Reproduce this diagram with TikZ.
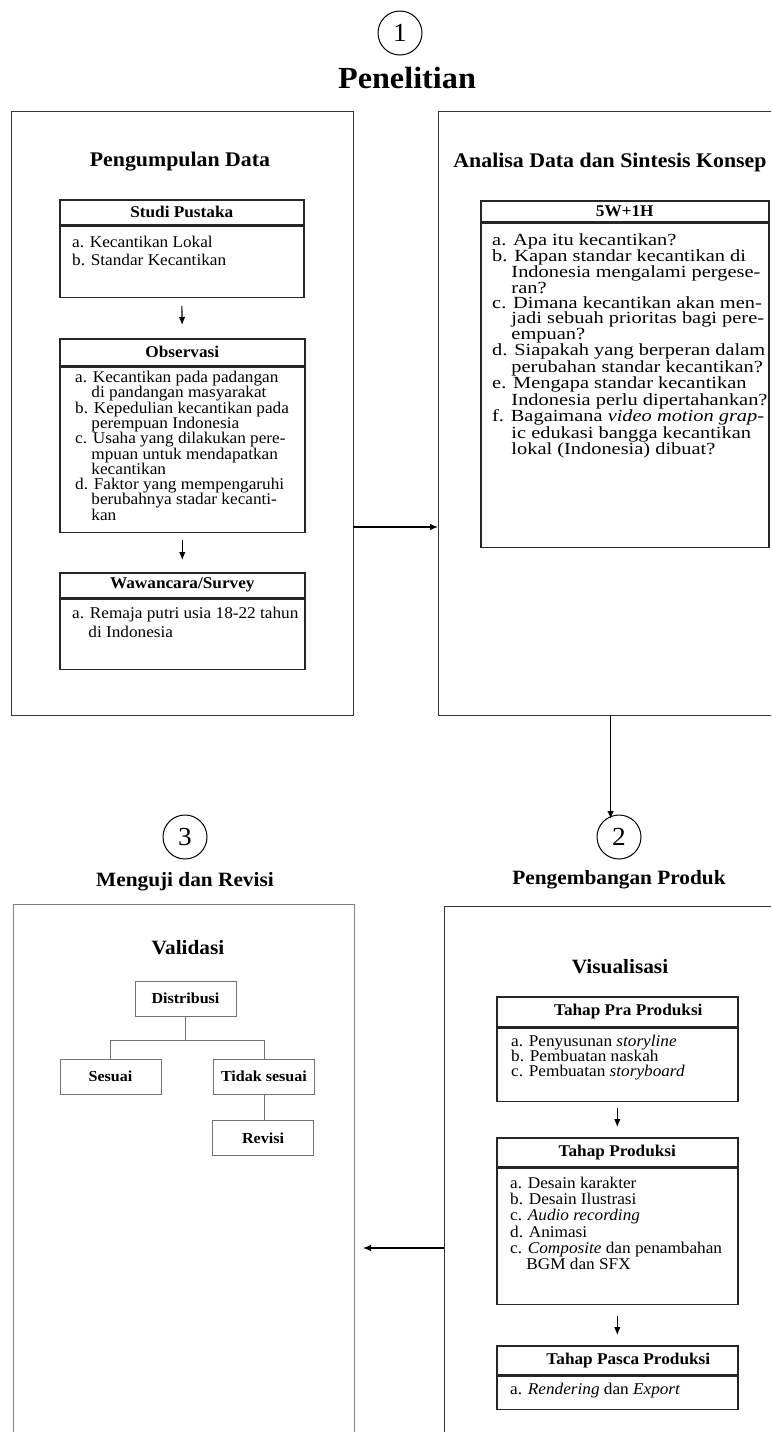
\documentclass[tikz,border=0pt]{standalone}
\usepackage{fontspec}
\setmainfont[FakeStretch=1.05]{Liberation Serif}
\newfontfamily\lebar[FakeStretch=1.2]{Liberation Serif}
\usetikzlibrary{arrows.meta}

\newcommand{\lanjut}{\phantom{a.}\ }

\begin{document}
\begin{tikzpicture}[x=1pt,y=-1pt,
    bigbox/.style={draw=black!80,line width=1.2pt,inner sep=0pt,anchor=north west},
    grpbox/.style={draw=black!50,line width=1pt,inner sep=0pt,anchor=north west},
    hdr/.style={draw=black!85,line width=1.6pt,inner sep=0pt,anchor=north west,font=\fontsize{16.4}{18}\selectfont\bfseries},
    bdy/.style={draw=black!85,line width=1.6pt,inner sep=0pt,anchor=north west},
    txt/.style={inner sep=0pt,anchor=north west,align=left},
    judul/.style={font=\fontsize{20.8}{23}\selectfont\bfseries},
    subjudul/.style={font=\fontsize{20.3}{23}\selectfont\bfseries},
    nomor/.style={circle,draw,line width=1pt,minimum size=44pt,inner sep=0pt,font=\fontsize{26}{26}\selectfont},
    cabang/.style={draw=black!55,line width=1pt,minimum width=101pt,minimum height=35pt,inner sep=0pt,font=\fontsize{15.3}{17}\selectfont\bfseries},
    arr/.style={-{Latex[length=8pt,width=6.5pt]},line width=1.1pt},
    garis/.style={draw=black!55,line width=1pt}]

  \useasboundingbox (0,0) rectangle (771,1432);
  \clip (0,0) rectangle (771,1432);

  % tahap 1 : penelitian
  \node[nomor] (satu) at (400,33) {1};
  \node[font=\fontsize{30.7}{33}\selectfont\bfseries] (teliti) at (407,78) {Penelitian};
  \node[bigbox,minimum width=342pt,minimum height=604pt] (kumpul) at (11,111) {};
  \node[bigbox,minimum width=344pt,minimum height=604pt] (analisa) at (438,111) {};
  \node[judul] (kumpulT) at (180,162) {Pengumpulan Data};
  \node[judul] (analisaT) at (610,162) {Analisa Data dan Sintesis Konsep};

  \node[hdr,minimum width=244pt,minimum height=25pt] (studiH) at (59,199) {Studi Pustaka};
  \node[bdy,minimum width=244pt,minimum height=71pt] (studiB) at (studiH.south west) {};
  \node[txt,font=\fontsize{16.4}{18}\selectfont] (studiT) at (72,236) {a. Kecantikan Lokal\\b. Standar Kecantikan};

  \node[hdr,minimum width=245pt,minimum height=27pt] (obsH) at (59,338) {Observasi};
  \node[bdy,minimum width=245pt,minimum height=165pt] (obsB) at (obsH.south west) {};
  \node[txt,font=\fontsize{16.4}{15.3}\selectfont] (obsT) at (75,371) {a. Kecantikan pada padangan\\
    \lanjut di pandangan masyarakat\\
    b. Kepedulian kecantikan pada\\
    \lanjut perempuan Indonesia\\
    c. Usaha yang dilakukan pere-\\
    \lanjut mpuan untuk mendapatkan\\
    \lanjut kecantikan\\
    d. Faktor yang mempengaruhi\\
    \lanjut berubahnya stadar kecanti-\\
    \lanjut kan};

  \node[hdr,minimum width=245pt,minimum height=25pt] (wawanH) at (59,572) {Wawancara/Survey};
  \node[bdy,minimum width=245pt,minimum height=70pt] (wawanB) at (wawanH.south west) {};
  \node[txt,font=\fontsize{16.4}{19}\selectfont] (wawanT) at (72,607) {a. Remaja putri usia 18-22 tahun\\
    \lanjut di Indonesia};

  \draw[arr,shorten <=8pt,shorten >=13pt] (studiB.south) -- (obsH.north);
  \draw[arr,shorten <=7pt,shorten >=12pt] (obsB.south) -- (wawanH.north);

  \node[hdr,minimum width=288pt,minimum height=21pt] (limaH) at (480,200) {5W+1H};
  \node[bdy,minimum width=288pt,minimum height=324pt] (limaB) at (limaH.south west) {};
  \node[txt,font=\lebar\fontsize{17}{14.8}\selectfont] (limaT) at (492,233) {a. Apa itu kecantikan?\\
    b. Kapan standar kecantikan di\\
    \lanjut Indonesia mengalami pergese-\\
    \lanjut ran?\\
    c. Dimana kecantikan akan men-\\
    \lanjut jadi sebuah prioritas bagi pere-\\
    \lanjut empuan?\\
    d. Siapakah yang berperan dalam\\
    \lanjut perubahan standar kecantikan?\\
    e. Mengapa standar kecantikan\\
    \lanjut Indonesia perlu dipertahankan?\\
    f. Bagaimana \textit{video motion grap-}\\
    \lanjut ic edukasi bangga kecantikan\\
    \lanjut lokal (Indonesia) dibuat?};

  \coordinate (kanan) at (353,527);
  \draw[arr] (kanan) -- (analisa.west |- kanan);
  \draw[arr,shorten >=18pt] (analisa.south) -- (analisa.south |- 610,837);

  % tahap 2 dan 3
  \node[nomor] (tiga) at (185,837) {3};
  \node[subjudul] (ujiT) at (185,882) {Menguji dan Revisi};
  \node[nomor] (dua) at (619,837) {2};
  \node[subjudul] (kembangT) at (619,880) {Pengembangan Produk};

  \node[grpbox,minimum width=341pt,minimum height=600pt] (uji) at (13,904) {};
  \node[bigbox,minimum width=350pt,minimum height=600pt] (visual) at (444,906) {};
  \node[subjudul] (validasiT) at (188,948) {Validasi};
  \node[subjudul] (visualT) at (620,967) {Visualisasi};

  \node[cabang] (distri) at (185.5,998.5) {Distribusi};
  \node[cabang] (sesuai) at (110.5,1076.5) {Sesuai};
  \node[cabang] (tidak) at (264,1076.5) {Tidak sesuai};
  \node[cabang] (revisi) at (263,1138) {Revisi};
  \draw[garis] (distri.south) -- ++(0,24) -| (sesuai.north);
  \draw[garis] (distri.south) -- ++(0,24) -| (tidak.north);
  \draw[garis] (tidak.south) -- (tidak.south |- revisi.north);

  \node[hdr,minimum width=241pt,minimum height=30pt] (praH) at (496,996) {\hspace*{22pt}Tahap Pra Produksi};
  \node[bdy,minimum width=241pt,minimum height=73pt] (praB) at (praH.south west) {};
  \node[txt,font=\fontsize{16.4}{15}\selectfont] (praT) at (511,1035) {a. Penyusunan \textit{storyline}\\
    b. Pembuatan naskah\\
    c. Pembuatan \textit{storyboard}};

  \node[hdr,minimum width=241pt,minimum height=29pt] (prodH) at (496,1137) {Tahap Produksi};
  \node[bdy,minimum width=241pt,minimum height=136pt] (prodB) at (prodH.south west) {};
  \node[txt,font=\fontsize{16.4}{16.2}\selectfont] (prodT) at (510,1177) {a. Desain karakter\\
    b. Desain Ilustrasi\\
    c. \textit{Audio recording}\\
    d. Animasi\\
    c. \textit{Composite} dan penambahan\\
    \lanjut BGM dan SFX};

  \node[hdr,minimum width=241pt,minimum height=29pt] (pascaH) at (496,1345) {\hspace*{22pt}Tahap Pasca Produksi};
  \node[bdy,minimum width=241pt,minimum height=33pt] (pascaB) at (pascaH.south west) {};
  \node[txt,font=\fontsize{16.4}{16}\selectfont] (pascaT) at (510,1383) {a. \textit{Rendering} dan \textit{Export}};

  \draw[arr,shorten <=6pt,shorten >=10pt] (praB.south) -- (prodH.north);
  \draw[arr,shorten <=11pt,shorten >=10pt] (prodB.south) -- (pascaH.north);

  \coordinate (kiri) at (444,1248);
  \draw[arr,shorten >=8pt] (kiri) -- (uji.east |- kiri);
\end{tikzpicture}
\end{document}
